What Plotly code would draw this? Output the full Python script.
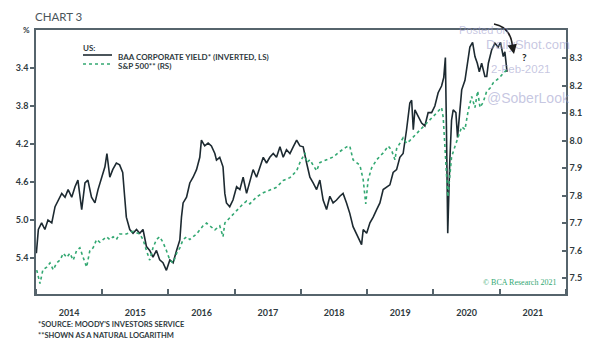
import plotly.graph_objects as go

# ---------------- data ----------------
baa_dates = [
    "2014-01-03", "2014-01-14", "2014-02-01", "2014-02-19", "2014-03-08", "2014-03-29",
    "2014-04-16", "2014-05-03", "2014-05-23", "2014-06-10", "2014-06-27", "2014-07-17",
    "2014-08-04", "2014-08-20", "2014-09-10", "2014-09-28", "2014-10-14", "2014-11-03",
    "2014-11-22", "2014-12-09", "2014-12-28", "2015-01-16", "2015-01-27", "2015-02-12",
    "2015-02-28", "2015-03-20", "2015-04-07", "2015-04-24", "2015-05-05", "2015-05-14",
    "2015-06-02", "2015-06-20", "2015-07-09", "2015-07-27", "2015-08-14", "2015-09-02",
    "2015-09-20", "2015-10-08", "2015-10-27", "2015-11-14", "2015-12-02", "2015-12-21",
    "2016-01-09", "2016-01-27", "2016-02-15", "2016-03-04", "2016-03-13", "2016-03-22",
    "2016-04-10", "2016-04-28", "2016-05-16", "2016-06-04", "2016-06-22", "2016-07-01",
    "2016-07-19", "2016-08-07", "2016-08-25", "2016-09-13", "2016-09-22", "2016-10-10",
    "2016-10-28", "2016-11-07", "2016-11-16", "2016-12-04", "2016-12-22", "2017-01-11",
    "2017-01-29", "2017-02-16", "2017-03-07", "2017-03-25", "2017-04-12", "2017-05-01",
    "2017-05-19", "2017-06-07", "2017-06-25", "2017-07-13", "2017-08-01", "2017-08-19",
    "2017-09-07", "2017-09-25", "2017-10-13", "2017-11-01", "2017-11-19", "2017-12-08",
    "2017-12-26", "2018-01-13", "2018-02-01", "2018-02-19", "2018-03-09", "2018-03-28",
    "2018-04-15", "2018-05-03", "2018-05-22", "2018-06-09", "2018-06-27", "2018-07-16",
    "2018-08-03", "2018-08-21", "2018-09-09", "2018-09-27", "2018-10-15", "2018-11-03",
    "2018-11-22", "2018-12-01", "2018-12-10", "2018-12-29", "2019-01-16", "2019-02-03",
    "2019-02-22", "2019-03-12", "2019-03-30", "2019-04-18", "2019-05-06", "2019-05-24",
    "2019-06-12", "2019-06-30", "2019-07-18", "2019-08-06", "2019-08-24", "2019-09-03",
    "2019-09-12", "2019-09-21", "2019-10-09", "2019-10-28", "2019-11-15", "2019-12-03",
    "2019-12-22", "2020-01-09", "2020-01-27", "2020-02-15", "2020-02-27", "2020-03-07",
    "2020-03-13", "2020-03-20", "2020-03-31", "2020-04-10", "2020-04-19", "2020-05-04",
    "2020-05-13", "2020-05-26", "2020-06-05", "2020-06-23", "2020-07-11", "2020-07-20",
    "2020-08-04", "2020-08-17", "2020-08-30", "2020-09-10", "2020-09-23", "2020-10-02",
    "2020-10-11", "2020-10-21", "2020-10-30", "2020-11-17", "2020-12-05", "2020-12-23",
    "2021-01-05", "2021-01-20", "2021-01-29", "2021-02-10",
]
baa_yield = [
    5.35, 5.10, 5.03, 5.10, 5.00, 5.03,
    4.86, 4.79, 4.72, 4.76, 4.68, 4.76,
    4.65, 4.58, 4.89, 4.61, 4.58, 4.76,
    4.82, 4.68, 4.55, 4.44, 4.30, 4.55,
    4.47, 4.40, 4.42, 4.50, 4.76, 4.97,
    5.10, 5.14, 5.10, 5.14, 5.10, 5.28,
    5.32, 5.39, 5.32, 5.42, 5.45, 5.53,
    5.42, 5.45, 5.32, 5.21, 4.97, 4.82,
    4.76, 4.61, 4.55, 4.47, 4.34, 4.16,
    4.22, 4.19, 4.22, 4.30, 4.37, 4.34,
    4.44, 4.72, 4.82, 4.86, 4.79, 4.65,
    4.68, 4.55, 4.72, 4.58, 4.47, 4.55,
    4.44, 4.34, 4.40, 4.34, 4.30, 4.34,
    4.23, 4.34, 4.26, 4.30, 4.23, 4.16,
    4.22, 4.23, 4.40, 4.55, 4.61, 4.68,
    4.58, 4.79, 4.89, 4.75, 4.82, 4.79,
    4.75, 4.72, 4.82, 4.93, 5.07, 5.14,
    5.21, 5.26, 5.10, 5.14, 5.03, 4.97,
    4.89, 4.82, 4.68, 4.65, 4.63, 4.50,
    4.47, 4.34, 4.30, 4.05, 3.77, 3.74,
    4.05, 3.84, 3.91, 3.98, 4.01, 3.87,
    3.87, 3.80, 3.66, 3.59, 3.50, 3.29,
    4.05, 5.14, 4.40, 3.95, 3.84, 3.87,
    4.13, 3.87, 3.63, 3.53, 3.32, 3.18,
    3.13, 3.28, 3.35, 3.44, 3.35, 3.42,
    3.49, 3.49, 3.35, 3.21, 3.14, 3.18,
    3.13, 3.28, 3.23, 3.44,
]

spx_dates = [
    "2014-01-05", "2014-01-23", "2014-02-08", "2014-03-01", "2014-03-19", "2014-04-06",
    "2014-04-25", "2014-05-13", "2014-06-01", "2014-06-19", "2014-07-07", "2014-07-25",
    "2014-08-13", "2014-08-31", "2014-09-18", "2014-10-07", "2014-10-25", "2014-11-12",
    "2014-12-01", "2014-12-19", "2015-01-06", "2015-01-25", "2015-02-12", "2015-03-02",
    "2015-03-20", "2015-04-07", "2015-05-14", "2015-06-20", "2015-07-27", "2015-08-14",
    "2015-09-02", "2015-09-20", "2015-10-08", "2015-10-27", "2015-11-14", "2015-12-02",
    "2015-12-21", "2016-01-09", "2016-01-27", "2016-02-15", "2016-03-04", "2016-03-22",
    "2016-04-10", "2016-04-28", "2016-05-16", "2016-06-04", "2016-06-22", "2016-07-10",
    "2016-07-29", "2016-08-16", "2016-09-13", "2016-10-10", "2016-10-28", "2016-11-07",
    "2016-12-04", "2017-01-11", "2017-02-16", "2017-03-07", "2017-03-25", "2017-05-01",
    "2017-06-07", "2017-07-13", "2017-08-19", "2017-09-25", "2017-11-01", "2017-12-08",
    "2017-12-26", "2018-01-23", "2018-02-01", "2018-02-19", "2018-03-09", "2018-03-28",
    "2018-04-15", "2018-05-22", "2018-06-27", "2018-08-03", "2018-09-09", "2018-09-27",
    "2018-10-15", "2018-11-03", "2018-11-22", "2018-12-10", "2018-12-24", "2019-01-06",
    "2019-01-25", "2019-02-22", "2019-03-30", "2019-04-27", "2019-05-15", "2019-06-03",
    "2019-06-12", "2019-07-18", "2019-08-06", "2019-08-24", "2019-10-01", "2019-11-06",
    "2019-12-12", "2020-01-18", "2020-02-15", "2020-02-24", "2020-03-04", "2020-03-13",
    "2020-03-21", "2020-03-31", "2020-04-10", "2020-04-28", "2020-05-17", "2020-06-05",
    "2020-06-23", "2020-07-11", "2020-07-30", "2020-08-17", "2020-09-01", "2020-09-14",
    "2020-10-02", "2020-10-21", "2020-11-08", "2020-11-26", "2020-12-14", "2021-01-01",
    "2021-01-20", "2021-02-07",
]
spx_log = [
    7.529, 7.480, 7.530, 7.540, 7.555, 7.530,
    7.555, 7.565, 7.590, 7.575, 7.590, 7.565,
    7.600, 7.610, 7.575, 7.540, 7.600, 7.610,
    7.640, 7.630, 7.640, 7.650, 7.640, 7.650,
    7.640, 7.660, 7.660, 7.670, 7.660, 7.640,
    7.600, 7.565, 7.610, 7.640, 7.650, 7.630,
    7.600, 7.565, 7.555, 7.590, 7.610, 7.640,
    7.650, 7.640, 7.650, 7.660, 7.675, 7.690,
    7.700, 7.690, 7.675, 7.690, 7.650, 7.700,
    7.720, 7.745, 7.770, 7.780, 7.770, 7.795,
    7.810, 7.820, 7.830, 7.855, 7.865, 7.890,
    7.920, 7.955, 7.920, 7.930, 7.910, 7.890,
    7.920, 7.930, 7.940, 7.960, 7.977, 7.980,
    7.930, 7.920, 7.910, 7.857, 7.770, 7.857,
    7.900, 7.930, 7.955, 7.980, 7.965, 7.930,
    7.970, 8.010, 7.990, 8.000, 8.027, 8.050,
    8.075, 8.100, 8.120, 8.085, 8.000, 7.880,
    7.795, 7.880, 7.940, 7.977, 8.010, 8.050,
    8.040, 8.110, 8.160, 8.120, 8.180, 8.120,
    8.140, 8.180, 8.190, 8.210, 8.220, 8.230,
    8.245, 8.256,
]

left_ticks = [3.4, 3.8, 4.2, 4.6, 5.0, 5.4]
right_ticks = [7.5, 7.6, 7.7, 7.8, 7.9, 8.0, 8.1, 8.2, 8.3]

# ---------------- layout geometry ----------------
W, H = 605, 341
ML, MR, MT, MB = 36, 39, 30, 47
PW, PH = W - ML - MR, H - MT - MB


def px(x):
    return (x - ML) / PW


def py(y):
    return (H - MB - y) / PH


AXIS_COL = "#56646c"
TXT_COL = "#2f3a40"
BLACK = "#1d2a31"
GREEN = "#33a872"
WM = "rgba(150,150,200,0.55)"
FONT = "Lato"

fig = go.Figure()
fig.add_trace(go.Scatter(
    x=baa_dates, y=baa_yield, mode="lines", yaxis="y",
    line=dict(color=BLACK, width=1.6), showlegend=False,
))
fig.add_trace(go.Scatter(
    x=spx_dates, y=spx_log, mode="lines", yaxis="y2",
    line=dict(color=GREEN, width=1.6, dash="dot"), showlegend=False,
))

fig.update_layout(
    width=W, height=H,
    margin=dict(l=ML, r=MR, t=MT, b=MB),
    paper_bgcolor="white", plot_bgcolor="white",
    font=dict(family=FONT, color=TXT_COL, size=9),
    xaxis=dict(
        type="date", range=["2014-01-01", "2022-01-01"],
        tick0="2014-01-01", dtick="M12", tickformat="%Y",
        ticklabelmode="period", ticks="inside", ticklen=5,
        tickcolor=AXIS_COL, tickwidth=1.5,
        showline=True, linecolor=AXIS_COL, linewidth=1.5, mirror=True,
        showgrid=False, zeroline=False,
        tickfont=dict(family=FONT, size=9, color=TXT_COL, weight="bold"),
        ticklabelstandoff=9,
    ),
    yaxis=dict(
        range=[5.779, 3.0], tickvals=left_ticks,
        ticktext=[f"{v:.1f}" for v in left_ticks],
        ticks="outside", ticklen=4, tickcolor=AXIS_COL, tickwidth=1.5,
        showline=True, linecolor=AXIS_COL, linewidth=1.5,
        showgrid=False, zeroline=False,
        tickfont=dict(family=FONT, size=9, color=TXT_COL, weight="bold"),
    ),
    yaxis2=dict(
        overlaying="y", side="right",
        range=[7.442, 8.402], tickvals=right_ticks,
        ticktext=[f"{v:.1f}" for v in right_ticks],
        ticks="inside", ticklen=4, tickcolor=AXIS_COL, tickwidth=1.5,
        showline=True, linecolor=AXIS_COL, linewidth=1.5,
        showgrid=False, zeroline=False,
        tickfont=dict(family=FONT, size=9, color=TXT_COL, weight="bold"),
    ),
)

ann = []


def text(x, y, s, size, color=TXT_COL, family=FONT, weight="normal", xanchor="left"):
    ann.append(dict(
        x=px(x), y=py(y), xref="paper", yref="paper", text=s, showarrow=False,
        xanchor=xanchor, yanchor="middle", borderpad=0,
        font=dict(family=family, size=size, color=color, weight=weight),
    ))


# title, unit, footnotes
text(34, 16, "CHART 3", 11.5, color="#4a555b")
text(31, 30, "%", 8, weight="bold", xanchor="right")
text(37, 324, "*SOURCE: MOODY'S INVESTORS SERVICE", 7.5, weight="bold")
text(37, 335, "**SHOWN AS A NATURAL LOGARITHM", 7.5, weight="bold")

# legend
text(82, 48, "US:", 8, weight="bold")
text(117, 57, "BAA CORPORATE YIELD* (INVERTED, LS)", 8, weight="bold")
text(117, 66, "S&P 500** (RS)", 8, weight="bold")

# credit
text(557, 282, "© BCA Research 2021", 8, color=GREEN, family="Liberation Serif", xanchor="right")

# watermarks
text(458, 30, "Posted on", 11, color=WM, family="Liberation Sans")
text(485, 45, "DailyShot.com", 13, color=WM, family="Liberation Sans")
text(490, 69, "2-Feb-2021", 11.5, color=WM, family="Liberation Sans")
text(486, 98, "@SoberLook", 14, color=WM, family="Liberation Sans")

# question mark and arrow
text(521, 57.5, "?", 10, color="#1d1d1d", weight="bold")
ann.append(dict(
    x=px(514), y=py(54), ax=-2, ay=-10, xref="paper", yref="paper",
    axref="pixel", ayref="pixel", text="", showarrow=True,
    arrowhead=2, arrowsize=1.2, arrowwidth=1.6, arrowcolor="#1d1d1d",
))
fig.update_layout(annotations=ann)

shapes = [
    dict(type="line", xref="paper", yref="paper",
         x0=px(83), x1=px(112), y0=py(55), y1=py(55),
         line=dict(color=BLACK, width=1.6)),
    dict(type="line", xref="paper", yref="paper",
         x0=px(83), x1=px(112), y0=py(64), y1=py(64),
         line=dict(color=GREEN, width=1.6, dash="dot")),
    dict(type="path", xref="paper", yref="paper",
         path=f"M {px(494)} {py(24)} Q {px(511)} {py(27)} {px(512.5)} {py(47)}",
         line=dict(color="#1d1d1d", width=1.6)),
]
fig.update_layout(shapes=shapes)

fig.write_html("out.html")
